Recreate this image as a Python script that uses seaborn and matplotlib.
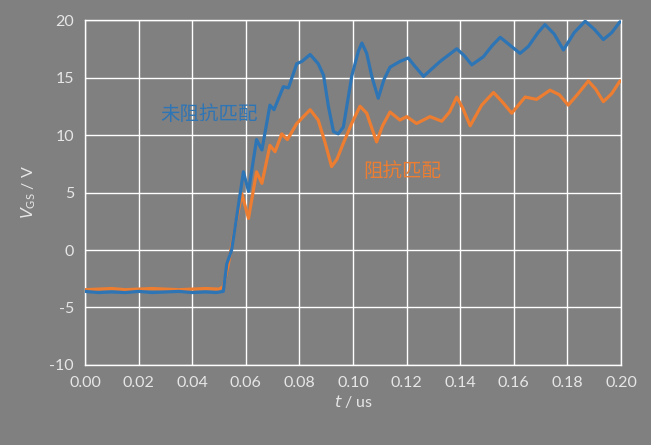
import matplotlib
matplotlib.use("Agg")
import matplotlib.pyplot as plt
import seaborn as sns
import pandas as pd

# Blue: without impedance matching
t_blue = [0.000, 0.005, 0.010, 0.015, 0.020, 0.025, 0.030, 0.035, 0.040, 0.045, 0.049, 0.0516,
          0.0529, 0.0547, 0.0566, 0.0591, 0.0610, 0.0640, 0.0660, 0.0690, 0.0705, 0.0740, 0.0759,
          0.0790, 0.0809, 0.0840, 0.0870, 0.0890, 0.0908, 0.0927, 0.0945, 0.0964, 0.0995, 0.1020,
          0.1033, 0.1051, 0.1070, 0.1094, 0.1115, 0.1138, 0.1175, 0.1206, 0.1230, 0.1263, 0.1325,
          0.1387, 0.1415, 0.1443, 0.1486, 0.1520, 0.1549, 0.1586, 0.1623, 0.1654, 0.1690, 0.1716,
          0.1750, 0.1785, 0.1825, 0.1866, 0.1900, 0.1934, 0.1965, 0.1996]
v_blue = [-3.6, -3.7, -3.65, -3.7, -3.6, -3.7, -3.65, -3.6, -3.7, -3.65, -3.7, -3.6,
          -1.2, 0.0, 2.9, 6.8, 5.1, 9.6, 8.7, 12.6, 12.2, 14.2, 14.1,
          16.2, 16.4, 17.0, 16.2, 15.2, 12.5, 10.3, 10.1, 10.7, 15.1, 17.3,
          18.0, 17.1, 15.1, 13.2, 14.8, 15.9, 16.4, 16.7, 16.0, 15.1, 16.4,
          17.5, 16.9, 16.1, 16.8, 17.8, 18.5, 17.8, 17.1, 17.7, 18.9, 19.6,
          18.8, 17.4, 18.9, 19.9, 19.2, 18.3, 18.9, 19.85]

# Orange: with impedance matching
t_orange = [0.000, 0.005, 0.010, 0.015, 0.020, 0.025, 0.030, 0.035, 0.040, 0.045, 0.050, 0.0516,
            0.0535, 0.0560, 0.0585, 0.0610, 0.0640, 0.0660, 0.0690, 0.0709, 0.0734, 0.0755,
            0.0790, 0.0840, 0.0870, 0.0895, 0.0920, 0.0940, 0.0964, 0.0995, 0.1026, 0.1051,
            0.1070, 0.1088, 0.1110, 0.1138, 0.1175, 0.1200, 0.1237, 0.1287, 0.1331, 0.1360,
            0.1387, 0.1410, 0.1437, 0.1480, 0.1524, 0.1560, 0.1592, 0.1642, 0.1685, 0.1735,
            0.1770, 0.1803, 0.1840, 0.1878, 0.1905, 0.1934, 0.1965, 0.1996]
v_orange = [-3.45, -3.4, -3.35, -3.45, -3.4, -3.35, -3.4, -3.45, -3.4, -3.35, -3.4, -3.2,
            -1.2, 2.0, 4.9, 2.75, 6.8, 5.8, 9.1, 8.55, 10.1, 9.6,
            11.0, 12.2, 11.3, 9.4, 7.25, 7.9, 9.3, 11.0, 12.5, 11.9,
            10.6, 9.4, 10.8, 12.0, 11.3, 11.6, 11.0, 11.6, 11.2, 12.0,
            13.3, 12.3, 10.8, 12.6, 13.7, 12.8, 11.9, 13.3, 13.1, 13.9,
            13.5, 12.6, 13.6, 14.7, 14.0, 12.9, 13.6, 14.7]

x_ticks = [0.00, 0.02, 0.04, 0.06, 0.08, 0.10, 0.12, 0.14, 0.16, 0.18, 0.20]
y_ticks = [-10, -5, 0, 5, 10, 15, 20]
label_blue = "未阻抗匹配"
label_orange = "阻抗匹配"

BG = "#808080"
BLUE = "#2E75B6"
ORANGE = "#ED7D31"
TXT = "#E6E6E6"

sns.set_style("white")
plt.rcParams["font.family"] = ["Lato", "Noto Sans CJK SC", "DejaVu Sans"]

fig = plt.figure(figsize=(6.51, 4.45), dpi=100, facecolor=BG)
ax = fig.add_axes([0.1306, 0.1798, 0.8234, 0.7752])
ax.set_facecolor(BG)

df_b = pd.DataFrame({"t": t_blue, "v": v_blue})
df_o = pd.DataFrame({"t": t_orange, "v": v_orange})
sns.lineplot(data=df_o, x="t", y="v", ax=ax, color=ORANGE, linewidth=2.3, sort=False, zorder=3)
sns.lineplot(data=df_b, x="t", y="v", ax=ax, color=BLUE, linewidth=2.3, sort=False, zorder=4)
for ln in ax.lines:
    ln.set_solid_joinstyle("round")

ax.set_xlim(0, 0.20)
ax.set_ylim(-10, 20)
ax.set_xticks(x_ticks)
ax.set_xticklabels([f"{v:.2f}" for v in x_ticks])
ax.set_yticks(y_ticks)
ax.set_yticklabels([str(v) for v in y_ticks])
ax.grid(True, color="white", linewidth=1.0)
ax.set_axisbelow(True)
for s in ax.spines.values():
    s.set_color("white")
    s.set_linewidth(1.0)
ax.tick_params(axis="both", colors=TXT, labelsize=11.5, length=0, pad=8)
ax.set_xlabel("$t$ / us", color=TXT, fontsize=11.5, labelpad=2)
ax.set_ylabel("$V_{\\mathregular{GS}}$ / V", color=TXT, fontsize=11.5, labelpad=8)

ax.text(0.0463, 11.8, label_blue, color=BLUE, fontsize=14, ha="center", va="center",
        family=["Noto Sans CJK SC", "DejaVu Sans"])
ax.text(0.1183, 6.8, label_orange, color=ORANGE, fontsize=14, ha="center", va="center",
        family=["Noto Sans CJK SC", "DejaVu Sans"])

fig.savefig("out.png", dpi=100, facecolor=BG)
